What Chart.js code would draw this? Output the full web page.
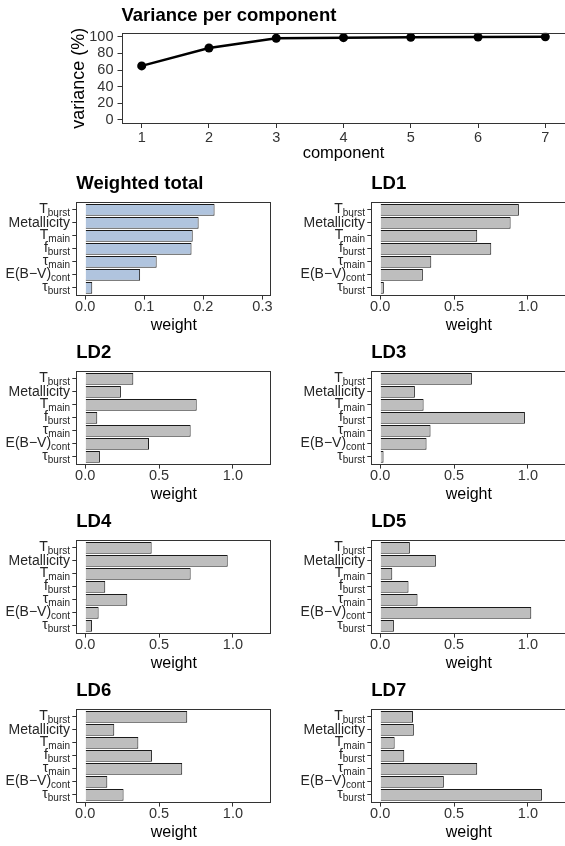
<!DOCTYPE html>
<html>
<head>
<meta charset="utf-8">
<script src="https://cdn.jsdelivr.net/npm/chart.js@4"></script>
<style>
  html, body { margin: 0; padding: 0; background: #fff; overflow: hidden; width: 565px; height: 846px; }
  canvas { position: absolute; }
</style>
</head>
<body>
<canvas id="variance" width="570" height="163" style="left:0px;top:0px"></canvas>
<canvas id="total" width="280" height="168" style="left:0px;top:168px"></canvas>
<canvas id="ld1" width="280" height="168" style="left:295px;top:168px"></canvas>
<canvas id="ld2" width="280" height="168" style="left:0px;top:337px"></canvas>
<canvas id="ld3" width="280" height="168" style="left:295px;top:337px"></canvas>
<canvas id="ld4" width="280" height="168" style="left:0px;top:506px"></canvas>
<canvas id="ld5" width="280" height="168" style="left:295px;top:506px"></canvas>
<canvas id="ld6" width="280" height="168" style="left:0px;top:675px"></canvas>
<canvas id="ld7" width="280" height="168" style="left:295px;top:675px"></canvas>
<script>
// data
const components = [1, 2, 3, 4, 5, 6, 7];
const variance = [65, 86.5, 98.3, 99.0, 99.5, 99.8, 100];
const varianceTicks = [0, 20, 40, 60, 80, 100];

// "_" splits main text and subscript
const params = ['T_burst', 'Metallicity', 'T_main', 'f_burst', 'τ_main', 'E(B−V)_cont', 'τ_burst'];

const weightedTotal = [0.219, 0.192, 0.182, 0.180, 0.121, 0.093, 0.012];
const ld1 = [0.939, 0.883, 0.657, 0.752, 0.346, 0.289, 0.025];
const ld2 = [0.326, 0.242, 0.755, 0.082, 0.714, 0.432, 0.100];
const ld3 = [0.621, 0.235, 0.294, 0.980, 0.341, 0.314, 0.023];
const ld4 = [0.450, 0.965, 0.714, 0.136, 0.285, 0.091, 0.046];
const ld5 = [0.201, 0.377, 0.082, 0.192, 0.253, 1.023, 0.093];
const ld6 = [0.691, 0.197, 0.360, 0.452, 0.657, 0.150, 0.260];
const ld7 = [0.222, 0.228, 0.098, 0.163, 0.657, 0.431, 1.095];

const totalTicks = [0, 0.1, 0.2, 0.3];
const ldTicks = [0, 0.5, 1.0];

const FONT = "'Liberation Sans', Arial, Helvetica, sans-serif";

// ggplot style panel border
const boxPlugin = {
  id: 'panelBox',
  afterDraw(chart) {
    const a = chart.chartArea;
    const ctx = chart.ctx;
    ctx.save();
    ctx.strokeStyle = '#333';
    ctx.lineWidth = 1;
    const l = Math.round(a.left) + 0.5, t = Math.round(a.top) + 0.5;
    const r = Math.round(a.right) - 0.5, b = Math.round(a.bottom) - 0.5;
    ctx.strokeRect(l, t, r - l, b - t);
    ctx.restore();
  }
};

// category labels with subscripts
const paramLabels = {
  id: 'paramLabels',
  afterDraw(chart) {
    const y = chart.scales.y;
    const ctx = chart.ctx;
    const right = chart.chartArea.left - 6.3;
    ctx.save();
    ctx.fillStyle = '#262626';
    ctx.textBaseline = 'alphabetic';
    ctx.textAlign = 'left';
    params.forEach((p, i) => {
      const [main, sub] = p.split('_');
      const py = y.getPixelForValue(i + 1);
      ctx.font = '14px ' + FONT;
      const mw = ctx.measureText(main).width;
      let sw = 0;
      if (sub) {
        ctx.font = '10px ' + FONT;
        sw = ctx.measureText(sub).width;
      }
      const x0 = right - mw - sw;
      ctx.font = '14px ' + FONT;
      ctx.fillText(main, x0, py + (sub ? 3.5 : 4.5));
      if (sub) {
        ctx.font = '10px ' + FONT;
        ctx.fillText(sub, x0 + mw, py + 6.5);
      }
    });
    ctx.restore();
  }
};

const tickGrid = { drawOnChartArea: false, drawTicks: true, tickLength: 4, color: '#333', lineWidth: 1, offset: false };

new Chart(document.getElementById('variance'), {
  type: 'line',
  data: {
    datasets: [{
      data: components.map((c, i) => ({ x: c, y: variance[i] })),
      borderColor: '#000',
      borderWidth: 2.5,
      pointRadius: 4.5,
      pointBackgroundColor: '#000',
      pointBorderWidth: 0,
      tension: 0,
      fill: false
    }]
  },
  options: {
    responsive: false,
    animation: false,
    layout: { padding: { left: 68, right: 3.8, top: 0, bottom: 0 } },
    plugins: {
      legend: { display: false },
      tooltip: { enabled: false },
      title: {
        display: true, text: 'Variance per component', align: 'start', fullSize: false, color: '#000',
        font: { family: FONT, size: 18.5, weight: 'bold', lineHeight: 1.2 },
        padding: { top: 4.8, bottom: 5.7 }
      }
    },
    scales: {
      x: {
        type: 'linear', min: 0.7, max: 7.3, offset: false,
        afterBuildTicks: s => { s.ticks = components.map(v => ({ value: v })); },
        afterFit: s => { s.height = 39; },
        grid: tickGrid,
        border: { display: false },
        ticks: { autoSkip: false, maxRotation: 0, padding: 2, color: '#333', font: { family: FONT, size: 14.5, lineHeight: 1.1 }, callback: v => String(v) },
        title: { display: true, text: 'component', color: '#000', font: { family: FONT, size: 16.5, lineHeight: 1.2 }, padding: 0 }
      },
      y: {
        type: 'linear', min: -5, max: 105, offset: false,
        afterBuildTicks: s => { s.ticks = varianceTicks.map(v => ({ value: v })); },
        afterFit: s => { s.width = 53.5; },
        grid: tickGrid,
        border: { display: false },
        ticks: { autoSkip: false, padding: 4, color: '#333', font: { family: FONT, size: 14.5, lineHeight: 1.1 } },
        title: { display: true, text: 'variance (%)', color: '#000', font: { family: FONT, size: 18, lineHeight: 1.2 }, padding: 0 }
      }
    }
  },
  plugins: [boxPlugin]
});

function barPanel(id, title, values, fill, ticks, min, max) {
  new Chart(document.getElementById(id), {
    type: 'bar',
    data: {
      datasets: [{
        data: values.map((v, i) => ({ x: v, y: i + 1 })),
        backgroundColor: fill,
        borderColor: '#1a1a1a',
        borderWidth: 1,
        barPercentage: 0.9,
        categoryPercentage: 1
      }]
    },
    options: {
      indexAxis: 'y',
      responsive: false,
      animation: false,
      layout: { padding: { left: 0, right: 8.7, top: 0, bottom: 0.4 } },
      plugins: {
        legend: { display: false },
        tooltip: { enabled: false },
        title: {
          display: true, text: title, align: 'start', fullSize: false, color: '#000',
          font: { family: FONT, size: 18.5, weight: 'bold', lineHeight: 1.2 },
          padding: { top: 4.6, bottom: 7.2 }
        }
      },
      scales: {
        x: {
          type: 'linear', min: min, max: max, offset: false,
          afterBuildTicks: s => { s.ticks = ticks.map(v => ({ value: v })); },
          afterFit: s => { s.height = 40; },
          grid: tickGrid,
          border: { display: false },
          ticks: { autoSkip: false, maxRotation: 0, padding: 0, color: '#333', font: { family: FONT, size: 14.5, lineHeight: 1 }, callback: v => v.toFixed(1) },
          title: { display: true, text: 'weight', color: '#000', font: { family: FONT, size: 16, lineHeight: 1.2 }, padding: 0 }
        },
        y: {
          type: 'linear', reverse: true, min: 0.4, max: 7.6, offset: false,
          afterBuildTicks: s => { s.ticks = params.map((p, i) => ({ value: i + 1 })); },
          afterFit: s => { s.width = 76.3; },
          grid: tickGrid,
          border: { display: false },
          ticks: { display: false, autoSkip: false }
        }
      }
    },
    plugins: [paramLabels, boxPlugin]
  });
}

barPanel('total', 'Weighted total', weightedTotal, '#B0C4DE', totalTicks, -0.015, 0.315);
barPanel('ld1', 'LD1', ld1, '#BEBEBE', ldTicks, -0.06, 1.26);
barPanel('ld2', 'LD2', ld2, '#BEBEBE', ldTicks, -0.06, 1.26);
barPanel('ld3', 'LD3', ld3, '#BEBEBE', ldTicks, -0.06, 1.26);
barPanel('ld4', 'LD4', ld4, '#BEBEBE', ldTicks, -0.06, 1.26);
barPanel('ld5', 'LD5', ld5, '#BEBEBE', ldTicks, -0.06, 1.26);
barPanel('ld6', 'LD6', ld6, '#BEBEBE', ldTicks, -0.06, 1.26);
barPanel('ld7', 'LD7', ld7, '#BEBEBE', ldTicks, -0.06, 1.26);
</script>
</body>
</html>
